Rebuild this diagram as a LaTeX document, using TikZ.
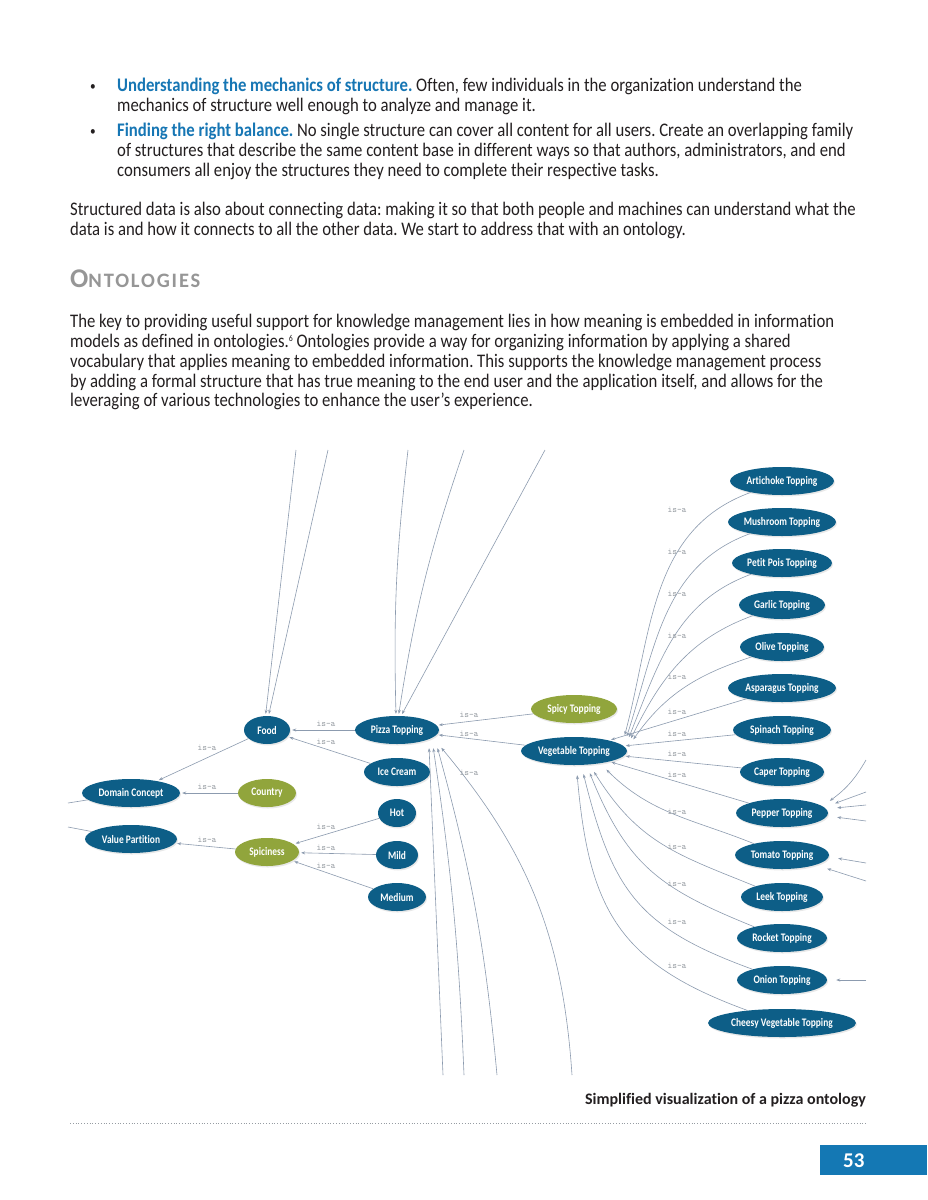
\documentclass[tikz,border=0pt]{standalone}
\usepackage{fontspec}
\setmainfont{Carlito}[FakeStretch=0.87, Ligatures=NoCommon]
\newfontfamily\plainfont{Carlito}[Ligatures=NoCommon]
\newfontfamily\nodefont{Carlito}[FakeStretch=0.82, Ligatures=NoCommon]
\newfontfamily\headfont{Carlito}[LetterSpace=9]
\usetikzlibrary{arrows.meta,shapes.geometric,shadows}
\definecolor{ontoink}{RGB}{35,31,32}
\definecolor{ontohead}{RGB}{22,118,180}
\definecolor{ontogrey}{RGB}{150,150,150}
\definecolor{ontoblue}{RGB}{13,94,135}
\definecolor{ontogreen}{RGB}{145,165,60}
\definecolor{ontoline}{RGB}{140,155,175}
\definecolor{ontomuted}{RGB}{150,156,162}
\definecolor{ontopage}{RGB}{20,120,180}
\frenchspacing

\begin{document}
\begin{tikzpicture}[
  x=1pt, y=-1pt,
  bodytext/.style={anchor=base west, inner sep=0, text=ontoink,
                   font=\fontsize{19.2}{20}\selectfont},
  concept/.style={ellipse, fill=ontoblue, text=white, inner sep=0,
                  font=\nodefont\bfseries\fontsize{11.5}{12}\selectfont,
                  minimum height=28, minimum width=#1,
                  drop shadow={opacity=0.18, shadow xshift=1pt, shadow yshift=-1.5pt}},
  flavour/.style={concept=#1, fill=ontogreen},
  isa/.style={-{Stealth[length=4pt,width=3pt]}, draw=ontoline, line width=0.6pt, shorten >=2pt},
  isaline/.style={draw=ontoline, line width=0.6pt},
  lbl/.style={font=\ttfamily\fontsize{9}{10}\selectfont, text=ontomuted, inner sep=0}
]
\fill[white] (0,0) rectangle (927,1200);
\useasboundingbox (0,0) rectangle (927,1200);

% page text
\node[bodytext, font=\fontsize{13}{20}\selectfont] (dot1) at (90,90) {\textbullet};
\node[bodytext] (b1a) at (117,91) {{\bfseries\color{ontohead}Understanding the mechanics of structure.} Often, few individuals in the organization understand the};
\node[bodytext] (b1b) at (117,111) {mechanics of structure well enough to analyze and manage it.};
\node[bodytext, font=\fontsize{13}{20}\selectfont] (dot2) at (90,135) {\textbullet};
\node[bodytext] (b2a) at (117,136) {{\bfseries\color{ontohead}Finding the right balance.} No single structure can cover all content for all users. Create an overlapping family};
\node[bodytext] (b2b) at (117,156) {of structures that describe the same content base in different ways so that authors, administrators, and end};
\node[bodytext] (b2c) at (117,176) {consumers all enjoy the structures they need to complete their respective tasks.};
\node[bodytext] (s1) at (70,215) {Structured data is also about connecting data: making it so that both people and machines can understand what the};
\node[bodytext] (s2) at (70,235) {data is and how it connects to all the other data. We start to address that with an ontology.};
\node[bodytext, text=ontogrey, font=\headfont\bfseries] (heading) at (70,287) {{\fontsize{27}{27}\selectfont O}{\fontsize{20.5}{21}\selectfont NTOLOGIES}};
\node[bodytext] (k1) at (70,327) {The key to providing useful support for knowledge management lies in how meaning is embedded in information};
\node[bodytext] (k2) at (70,347) {models as defined in ontologies.\raisebox{6pt}{\fontsize{9}{9}\selectfont 6} Ontologies provide a way for organizing information by applying a shared};
\node[bodytext] (k3) at (70,367) {vocabulary that applies meaning to embedded information. This supports the knowledge management process};
\node[bodytext] (k4) at (70,387) {by adding a formal structure that has true meaning to the end user and the application itself, and allows for the};
\node[bodytext] (k5) at (70,406) {leveraging of various technologies to enhance the user’s experience.};

% ontology
\node[concept=46] (food) at (267,730) {Food};
\node[concept=84] (pizza) at (397,730) {Pizza Topping};
\node[concept=66] (ice) at (397,772) {Ice Cream};
\node[concept=38] (hot) at (397,813) {Hot};
\node[concept=42] (mild) at (397,855) {Mild};
\node[concept=58] (medium) at (397,897) {Medium};
\node[concept=98] (dom) at (131,793) {Domain Concept};
\node[flavour=58] (country) at (267,793) {Country};
\node[concept=92] (vp) at (131,839) {Value Partition};
\node[flavour=64] (spic) at (267,852) {Spiciness};
\node[flavour=86] (spicy) at (574,709) {Spicy Topping};
\node[concept=106] (veg) at (574,751) {Vegetable Topping};

\node[concept=104] (art) at (782,481) {Artichoke Topping};
\node[concept=108] (mush) at (782,522) {Mushroom Topping};
\node[concept=100] (petit) at (782,563) {Petit Pois Topping};
\node[concept=86] (garlic) at (782,605) {Garlic Topping};
\node[concept=84] (olive) at (782,647) {Olive Topping};
\node[concept=108] (aspar) at (782,688) {Asparagus Topping};
\node[concept=98] (spinach) at (782,730) {Spinach Topping};
\node[concept=84] (caper) at (782,772) {Caper Topping};
\node[concept=92] (pepper) at (782,813) {Pepper Topping};
\node[concept=94] (tomato) at (782,855) {Tomato Topping};
\node[concept=82] (leek) at (782,897) {Leek Topping};
\node[concept=90] (rocket) at (782,938) {Rocket Topping};
\node[concept=90] (onion) at (782,980) {Onion Topping};
\node[concept=148] (cheesy) at (782,1023) {Cheesy Vegetable Topping};

% loose ends leaving the cut
\coordinate (f1) at (296,450);
\coordinate (f2) at (328,450);
\coordinate (p1) at (408,450);
\coordinate (p2) at (464,450);
\coordinate (p3) at (545,450);
\coordinate (q1) at (443,1075);
\coordinate (q2) at (464,1075);
\coordinate (q3) at (497,1075);
\coordinate (q4) at (572,1075);
\coordinate (l1) at (68,803);
\coordinate (l2) at (68,827);
\coordinate (r1) at (866,760);
\coordinate (r2) at (866,792);
\coordinate (r3) at (866,805);
\coordinate (r4) at (866,821);
\coordinate (r5) at (866,863);
\coordinate (r6) at (866,881);
\coordinate (r7) at (866,980);

\draw[isa] (pizza) -- (food) node[lbl] at (326,724) {is-a};
\draw[isa] (ice) -- (food) node[lbl] at (326,742) {is-a};
\draw[isa] (food) -- (dom) node[lbl] at (207,748) {is-a};
\draw[isa] (country) -- (dom) node[lbl] at (207,787) {is-a};
\draw[isa] (spic) -- (vp) node[lbl] at (207,840) {is-a};
\draw[isa] (hot) -- (spic) node[lbl] at (326,827) {is-a};
\draw[isa] (mild) -- (spic) node[lbl] at (326,848) {is-a};
\draw[isa] (medium) -- (spic) node[lbl] at (326,866) {is-a};
\draw[isa] (spicy) -- (pizza) node[lbl] at (469,715) {is-a};
\draw[isa] (veg) -- (pizza) node[lbl] at (469,734) {is-a};

\draw[isa] (art) to[out=200,in=75] ([shift={(-3,-14)}]veg.east) node[lbl] at (677,510) {is-a};
\draw[isa] (mush) to[out=200,in=72] ([shift={(-1,-13)}]veg.east) node[lbl] at (677,552) {is-a};
\draw[isa] (petit) to[out=200,in=68] ([shift={(1,-12)}]veg.east) node[lbl] at (677,594) {is-a};
\draw[isa] (garlic) to[out=200,in=64] ([shift={(3,-11)}]veg.east) node[lbl] at (677,636) {is-a};
\draw[isa] (olive) to[out=198,in=55] ([shift={(5,-10)}]veg.east) node[lbl] at (677,677) {is-a};
\draw[isa] (aspar) -- (veg) node[lbl] at (677,712) {is-a};
\draw[isa] (spinach) -- (veg) node[lbl] at (677,734) {is-a};
\draw[isa] (caper) -- (veg) node[lbl] at (677,754) {is-a};
\draw[isa] (pepper) -- (veg) node[lbl] at (677,775) {is-a};
\draw[isa] (tomato) to[out=158,in=-45] ([shift={(31,3)}]veg.south) node[lbl] at (677,812) {is-a};
\draw[isa] (leek) to[out=158,in=-58,looseness=1.1] ([shift={(19,5)}]veg.south) node[lbl] at (677,847) {is-a};
\draw[isa] (rocket) to[out=158,in=-68,looseness=1.15] ([shift={(15,6)}]veg.south) node[lbl] at (677,884) {is-a};
\draw[isa] (onion) to[out=160,in=-76,looseness=1.2] ([shift={(9,7)}]veg.south) node[lbl] at (677,922) {is-a};
\draw[isa] (cheesy) to[out=160,in=-85,looseness=1.2] ([shift={(3,8)}]veg.south) node[lbl] at (677,966) {is-a};

\draw[isa] (f1) -- (food.96);
\draw[isa] (f2) -- (food.84);
\draw[isa] (p1) to[bend right=4] (pizza.94);
\draw[isa] (p2) to[bend right=5] (pizza.84);
\draw[isa] (p3) -- (pizza.74);
\draw[isa] (q1) -- ([shift={(32,2)}]pizza.south);
\draw[isa] (q2) to[bend right=3] ([shift={(36,2)}]pizza.south);
\draw[isa] (q3) to[bend right=5] ([shift={(40,2)}]pizza.south);
\draw[isa] (q4) to[bend right=18] ([shift={(43,2)}]pizza.south) node[lbl] at (469,773) {is-a};

\draw[isa] (r1) to[bend left=12] ([shift={(0,-11)}]pepper.east);
\draw[isa] (r2) -- ([shift={(5,-9)}]pepper.east);
\draw[isa] (r3) -- ([shift={(7,-5)}]pepper.east);
\draw[isa] (r4) -- ([shift={(7,4)}]pepper.east);
\draw[isa] (r5) -- ([shift={(7,3)}]tomato.east);
\draw[isa] (r6) -- ([shift={(-4,13)}]tomato.east);
\draw[isa] (r7) -- ([shift={(7,0)}]onion.east);
\draw[isaline] (dom) -- (l1);
\draw[isaline] (vp) -- (l2);

% caption and folio
\node[anchor=base east, inner sep=0, text=ontoink,
      font=\plainfont\bfseries\fontsize{16}{18}\selectfont] (caption) at (866,1104) {Simplified visualization of a pizza ontology};
\draw[ontomuted, dotted, line width=0.8pt] (70,1123) -- (866,1123);
\node[fill=ontopage, anchor=north west, minimum height=30, inner ysep=0, inner xsep=23,
      text width=61, align=left,
      text=white, font=\plainfont\bfseries\fontsize{21}{21}\selectfont] (folio) at (820,1145) {53};
\end{tikzpicture}
\end{document}
